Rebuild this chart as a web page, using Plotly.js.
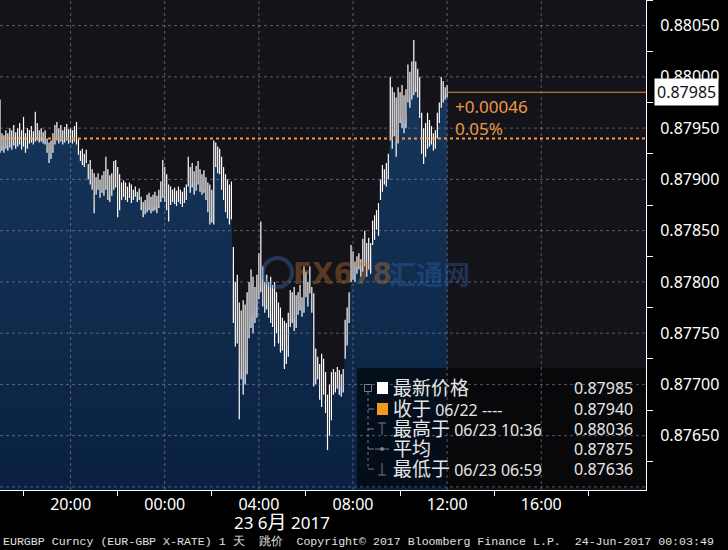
<!DOCTYPE html>
<html><head><meta charset="utf-8">
<script src="https://cdn.plot.ly/plotly-3.0.1.min.js"></script>
<style>html,body{margin:0;padding:0;background:#000;}#chart{width:728px;height:550px;}</style>
</head><body><div id="chart"></div>
<script>
// ---- data (EURGBP, 5-minute bars from 22 Jun 17:00) ----
const startTime = '2017-06-22T17:00:00Z';
const stepMinutes = 5;
const high = [
0.87978,0.87945,0.87943,0.87948,0.87945,0.87950,0.87948,0.87953,0.87946,0.87950,0.87955,0.87948,
0.87961,0.87945,0.87950,0.87948,0.87952,0.87947,0.87966,0.87955,0.87948,0.87950,0.87946,0.87948,
0.87940,0.87936,0.87938,0.87945,0.87953,0.87956,0.87950,0.87953,0.87948,0.87951,0.87954,0.87949,
0.87950,0.87948,0.87952,0.87956,0.87940,0.87928,0.87930,0.87925,0.87929,0.87915,0.87919,0.87910,
0.87906,0.87902,0.87906,0.87900,0.87904,0.87908,0.87922,0.87910,0.87904,0.87906,0.87918,0.87919,
0.87912,0.87905,0.87897,0.87899,0.87897,0.87893,0.87897,0.87895,0.87890,0.87893,0.87888,0.87891,
0.87883,0.87878,0.87880,0.87885,0.87887,0.87883,0.87885,0.87888,0.87884,0.87890,0.87898,0.87919,
0.87912,0.87905,0.87895,0.87893,0.87890,0.87892,0.87889,0.87893,0.87890,0.87888,0.87892,0.87895,
0.87922,0.87912,0.87916,0.87908,0.87913,0.87918,0.87910,0.87905,0.87909,0.87902,0.87897,0.87895,
0.87890,0.87938,0.87936,0.87932,0.87930,0.87922,0.87912,0.87905,0.87900,0.87895,0.87898,0.87834,
0.87800,0.87807,0.87780,0.87772,0.87782,0.87778,0.87790,0.87800,0.87812,0.87805,0.87795,0.87807,
0.87828,0.87859,0.87815,0.87800,0.87807,0.87800,0.87805,0.87797,0.87800,0.87790,0.87780,0.87775,
0.87765,0.87762,0.87760,0.87770,0.87792,0.87790,0.87795,0.87787,0.87790,0.87797,0.87785,0.87815,
0.87810,0.87800,0.87815,0.87795,0.87789,0.87735,0.87727,0.87720,0.87730,0.87725,0.87712,0.87690,
0.87700,0.87712,0.87715,0.87712,0.87717,0.87714,0.87710,0.87715,0.87763,0.87775,0.87790,0.87836,
0.87830,0.87820,0.87825,0.87828,0.87822,0.87842,0.87850,0.87838,0.87843,0.87838,0.87860,0.87865,
0.87870,0.87877,0.87900,0.87914,0.87910,0.87916,0.87925,0.88000,0.87990,0.87985,0.87980,0.87990,
0.87985,0.87992,0.87982,0.87988,0.88012,0.88005,0.88015,0.88036,0.88015,0.88008,0.88000,0.87965,
0.87950,0.87955,0.87965,0.87958,0.87952,0.87945,0.87948,0.87965,0.87975,0.88000,0.87996,0.87990,
0.87992];
const low = [
0.87926,0.87928,0.87926,0.87930,0.87928,0.87931,0.87929,0.87933,0.87930,0.87932,0.87934,0.87929,
0.87932,0.87926,0.87930,0.87935,0.87936,0.87934,0.87937,0.87938,0.87936,0.87937,0.87935,0.87934,
0.87926,0.87916,0.87920,0.87926,0.87934,0.87938,0.87935,0.87937,0.87934,0.87936,0.87938,0.87935,
0.87936,0.87935,0.87937,0.87934,0.87924,0.87918,0.87914,0.87912,0.87916,0.87900,0.87895,0.87890,
0.87867,0.87885,0.87890,0.87882,0.87887,0.87884,0.87890,0.87880,0.87878,0.87884,0.87890,0.87892,
0.87863,0.87870,0.87880,0.87883,0.87880,0.87878,0.87882,0.87877,0.87880,0.87883,0.87878,0.87880,
0.87870,0.87863,0.87866,0.87868,0.87870,0.87867,0.87869,0.87870,0.87867,0.87872,0.87878,0.87882,
0.87878,0.87870,0.87859,0.87875,0.87878,0.87876,0.87874,0.87878,0.87876,0.87873,0.87877,0.87880,
0.87893,0.87887,0.87892,0.87885,0.87889,0.87895,0.87888,0.87885,0.87887,0.87880,0.87868,0.87856,
0.87858,0.87856,0.87912,0.87906,0.87905,0.87890,0.87880,0.87868,0.87862,0.87856,0.87861,0.87760,
0.87737,0.87740,0.87666,0.87705,0.87690,0.87700,0.87710,0.87745,0.87755,0.87750,0.87760,0.87765,
0.87783,0.87790,0.87776,0.87770,0.87773,0.87765,0.87760,0.87756,0.87737,0.87750,0.87740,0.87731,
0.87733,0.87715,0.87720,0.87727,0.87756,0.87760,0.87752,0.87755,0.87768,0.87772,0.87766,0.87770,
0.87785,0.87776,0.87789,0.87770,0.87698,0.87700,0.87705,0.87685,0.87678,0.87690,0.87672,0.87636,
0.87650,0.87665,0.87690,0.87692,0.87696,0.87690,0.87688,0.87692,0.87725,0.87738,0.87760,0.87800,
0.87802,0.87800,0.87808,0.87812,0.87805,0.87810,0.87815,0.87805,0.87812,0.87808,0.87836,0.87841,
0.87851,0.87845,0.87880,0.87888,0.87895,0.87893,0.87900,0.87938,0.87930,0.87942,0.87922,0.87935,
0.87955,0.87950,0.87945,0.87950,0.87975,0.87970,0.87978,0.87982,0.87985,0.87980,0.87960,0.87925,
0.87915,0.87922,0.87930,0.87932,0.87934,0.87928,0.87930,0.87940,0.87955,0.87970,0.87975,0.87978,
0.87980];
const close = [
0.87929,0.87933,0.87931,0.87935,0.87932,0.87936,0.87934,0.87937,0.87935,0.87937,0.87938,0.87934,
0.87937,0.87932,0.87936,0.87938,0.87940,0.87938,0.87941,0.87942,0.87940,0.87941,0.87939,0.87938,
0.87929,0.87922,0.87925,0.87930,0.87938,0.87941,0.87939,0.87941,0.87938,0.87940,0.87941,0.87939,
0.87940,0.87938,0.87940,0.87937,0.87927,0.87921,0.87918,0.87916,0.87919,0.87904,0.87900,0.87895,
0.87872,0.87890,0.87893,0.87887,0.87891,0.87889,0.87895,0.87885,0.87883,0.87889,0.87894,0.87896,
0.87868,0.87875,0.87885,0.87887,0.87884,0.87882,0.87886,0.87882,0.87884,0.87887,0.87882,0.87884,
0.87874,0.87867,0.87870,0.87873,0.87874,0.87871,0.87873,0.87875,0.87872,0.87876,0.87882,0.87888,
0.87883,0.87875,0.87866,0.87879,0.87882,0.87880,0.87878,0.87882,0.87880,0.87877,0.87881,0.87884,
0.87897,0.87891,0.87896,0.87890,0.87894,0.87899,0.87892,0.87889,0.87891,0.87885,0.87874,0.87862,
0.87864,0.87915,0.87916,0.87912,0.87909,0.87895,0.87885,0.87873,0.87867,0.87861,0.87866,0.87780,
0.87755,0.87752,0.87700,0.87718,0.87705,0.87715,0.87725,0.87760,0.87770,0.87765,0.87772,0.87778,
0.87795,0.87800,0.87785,0.87778,0.87782,0.87773,0.87770,0.87765,0.87750,0.87760,0.87752,0.87745,
0.87742,0.87728,0.87732,0.87740,0.87765,0.87768,0.87762,0.87765,0.87775,0.87779,0.87773,0.87778,
0.87790,0.87782,0.87793,0.87775,0.87705,0.87706,0.87710,0.87692,0.87685,0.87696,0.87680,0.87645,
0.87658,0.87672,0.87697,0.87698,0.87702,0.87697,0.87694,0.87700,0.87735,0.87748,0.87768,0.87808,
0.87808,0.87806,0.87813,0.87817,0.87810,0.87815,0.87820,0.87812,0.87818,0.87815,0.87840,0.87845,
0.87855,0.87852,0.87884,0.87893,0.87900,0.87898,0.87905,0.87945,0.87940,0.87950,0.87930,0.87945,
0.87962,0.87958,0.87953,0.87958,0.87980,0.87976,0.87984,0.87990,0.87992,0.87986,0.87968,0.87933,
0.87920,0.87928,0.87935,0.87937,0.87938,0.87933,0.87935,0.87946,0.87962,0.87976,0.87980,0.87982,
0.87985];

const xTickVals = ['2017-06-22 20:00','2017-06-23 00:00','2017-06-23 04:00','2017-06-23 08:00','2017-06-23 12:00','2017-06-23 16:00'];
const xTickText = ['20:00','00:00','04:00','08:00','12:00','16:00'];
const xMinorVals = ['2017-06-22 18:00','2017-06-22 22:00','2017-06-23 02:00','2017-06-23 06:00','2017-06-23 10:00','2017-06-23 14:00','2017-06-23 18:00'];
const xRange = ['2017-06-22 17:00','2017-06-23 20:27'];
const dateLabel = '23 6月 2017';

const yTickVals = [0.8760,0.8765,0.8770,0.8775,0.8780,0.8785,0.8790,0.8795,0.8800,0.8805];
const yTickText = ['','0.87650','0.87700','0.87750','0.87800','0.87850','0.87900','0.87950','0.88000','0.88050'];
const yMinorVals = [0.87625,0.87675,0.87725,0.87775,0.87825,0.87875,0.87925,0.87975,0.88025,0.88075];
const yRange = [0.87597, 0.88075];

const lastPrice = 0.87985;
const prevClose = 0.87940;
const changeText = ['+0.00046','0.05%'];
const legendLabels = ['最新价格','收于 06/22 ----','最高于 06/23 10:36','平均','最低于 06/23 06:59'];
const legendValues = ['0.87985','0.87940','0.88036','0.87875','0.87636'];
const footerText = 'EURGBP Curncy (EUR-GBP X-RATE) 1 天  跳价  Copyright© 2017 Bloomberg Finance L.P.  24-Jun-2017 00:03:49';

// ---- build ----
const t0 = Date.parse(startTime);
const times = high.map((_, i) => new Date(t0 + i * stepMinutes * 60000).toISOString().slice(0, 16).replace('T', ' '));
const zx = [], zy = [];
times.forEach((t, i) => { zx.push(t, t, null); zy.push(low[i], high[i], null); });
const lastTime = times[times.length - 1];

const PW = 646, PH = 490;
const PX = x => x / PW;
const PY = y => (PH - y) / PH;
const bigCJK = (s, px) => s.replace(/([\u4e00-\u9fff]+)/g, '<span style="font-size:' + px + 'px">$1</span>');

const traces = [
  { x: times, y: close, type: 'scatter', mode: 'lines', line: { width: 0, color: 'rgba(0,0,0,0)' },
    fill: 'tozeroy', fillgradient: { type: 'vertical', start: 0.8760, stop: 0.8800,
      colorscale: [[0, '#0a2141'], [1, '#17375c']] }, hoverinfo: 'skip', showlegend: false },
  { x: zx, y: zy, type: 'scatter', mode: 'lines', connectgaps: false, line: { width: 1.2, color: '#ffffff' }, hoverinfo: 'skip', showlegend: false },
  { x: yTickVals.map(() => 1.0095), y: yTickVals, xaxis: 'x2', type: 'scatter', mode: 'markers',
    marker: { symbol: 'triangle-right', size: 9, color: '#ffffff' }, cliponaxis: false, hoverinfo: 'skip', showlegend: false },
  { x: [1.0085], y: [lastPrice], xaxis: 'x2', type: 'scatter', mode: 'markers',
    marker: { symbol: 'triangle-left', size: 16, color: '#ffffff' }, cliponaxis: false, hoverinfo: 'skip', showlegend: false }
];

const gridColor = 'rgba(150,150,175,0.55)';
const shapes = [];
shapes.push({ type: 'rect', xref: 'paper', yref: 'paper', x0: PX(357), x1: 1, y0: PY(488), y1: PY(368),
  fillcolor: 'rgba(0,0,0,0.6)', line: { width: 0 }, layer: 'above' });
yTickVals.forEach(v => shapes.push({ type: 'line', xref: 'paper', yref: 'y', x0: 0, x1: 1, y0: v, y1: v,
  line: { color: gridColor, width: 1, dash: '3px,3px' }, layer: 'above' }));
xTickVals.forEach(v => shapes.push({ type: 'line', xref: 'x', yref: 'paper', x0: v, x1: v, y0: 0, y1: 1,
  line: { color: gridColor, width: 1, dash: '3px,3px' }, layer: 'above' }));
shapes.push({ type: 'line', xref: 'paper', yref: 'y', x0: 0, x1: 1, y0: prevClose, y1: prevClose,
  line: { color: '#f19a45', width: 2, dash: 'dot' }, layer: 'above' });
shapes.push({ type: 'line', xref: 'x', yref: 'y', x0: lastTime, x1: '2017-06-24 12:00', y0: lastPrice, y1: lastPrice,
  line: { color: '#e8903a', width: 1 }, layer: 'above' });
shapes.push({ type: 'rect', xref: 'paper', yref: 'paper', x0: PX(377), x1: PX(388), y0: PY(394), y1: PY(382),
  fillcolor: '#ffffff', line: { width: 0 }, layer: 'above' });
shapes.push({ type: 'rect', xref: 'paper', yref: 'paper', x0: PX(377), x1: PX(388), y0: PY(415), y1: PY(403),
  fillcolor: '#f39a1e', line: { width: 0 }, layer: 'above' });
const treeCol = 'rgba(150,150,160,0.8)';
shapes.push({ type: 'rect', xref: 'paper', yref: 'paper', x0: PX(364.5), x1: PX(371.5), y0: PY(391.5), y1: PY(384.5),
  fillcolor: 'rgba(0,0,0,0)', line: { width: 1, color: treeCol }, layer: 'above' });
shapes.push({ type: 'line', xref: 'paper', yref: 'paper', x0: PX(368), x1: PX(368), y0: PY(392), y1: PY(469),
  line: { width: 1, color: treeCol, dash: 'dot' }, layer: 'above' });
[409, 429, 449, 469].forEach(y => shapes.push({ type: 'line', xref: 'paper', yref: 'paper', x0: PX(368), x1: PX(374), y0: PY(y), y1: PY(y),
  line: { width: 1, color: treeCol }, layer: 'above' }));
shapes.push({ type: 'line', xref: 'paper', yref: 'paper', x0: PX(382), x1: PX(382), y0: PY(423), y1: PY(435), line: { width: 1, color: treeCol }, layer: 'above' });
shapes.push({ type: 'line', xref: 'paper', yref: 'paper', x0: PX(378), x1: PX(386), y0: PY(423), y1: PY(423), line: { width: 1, color: treeCol }, layer: 'above' });
shapes.push({ type: 'line', xref: 'paper', yref: 'paper', x0: PX(382), x1: PX(382), y0: PY(463), y1: PY(475), line: { width: 1, color: treeCol }, layer: 'above' });
shapes.push({ type: 'line', xref: 'paper', yref: 'paper', x0: PX(378), x1: PX(386), y0: PY(475), y1: PY(475), line: { width: 1, color: treeCol }, layer: 'above' });
shapes.push({ type: 'line', xref: 'paper', yref: 'paper', x0: PX(375), x1: PX(389), y0: PY(449), y1: PY(449), line: { width: 1, color: treeCol }, layer: 'above' });
shapes.push({ type: 'circle', xref: 'paper', yref: 'paper', x0: PX(380), x1: PX(384), y0: PY(451), y1: PY(447), fillcolor: treeCol, line: { width: 0 }, layer: 'above' });
shapes.push({ type: 'circle', xref: 'paper', yref: 'paper', x0: PX(263), x1: PX(292), y0: PY(287), y1: PY(258),
  fillcolor: 'rgba(0,0,0,0)', line: { width: 4, color: 'rgba(60,110,180,0.4)' }, layer: 'above' });

const annotations = [];
const rowY = [388, 409, 429, 449, 469];
const legFont = { family: 'Noto Sans, Noto Sans CJK SC', size: 16, color: '#e6e6e6' };
legendLabels.forEach((s, i) => annotations.push({ text: bigCJK(s, 19), xref: 'paper', yref: 'paper', x: PX(391), y: PY(rowY[i]),
  xanchor: 'left', yanchor: 'middle', showarrow: false, font: legFont }));
legendValues.forEach((s, i) => annotations.push({ text: s, xref: 'paper', yref: 'paper', x: PX(635), y: PY(rowY[i]),
  xanchor: 'right', yanchor: 'middle', showarrow: false, font: legFont }));
annotations.push({ text: changeText.join('<br>'), xref: 'paper', yref: 'paper', x: PX(453), y: PY(93), xanchor: 'left', yanchor: 'top',
  align: 'left', showarrow: false, font: { family: 'Noto Sans', size: 17, color: '#ec9a45' } });
annotations.push({ text: lastPrice.toFixed(5), xref: 'paper', yref: 'y', x: PX(654), y: lastPrice, xanchor: 'left', yanchor: 'middle',
  showarrow: false, bgcolor: '#ffffff', borderpad: 2, font: { family: 'Noto Sans', size: 16, color: '#111111' } });
annotations.push({ text: bigCJK(dateLabel, 19), xref: 'paper', yref: 'paper', x: PX(282), y: PY(522), xanchor: 'center', yanchor: 'middle',
  showarrow: false, font: { family: 'Noto Sans, Noto Sans CJK SC', size: 17, color: '#ffffff' } });
annotations.push({ text: footerText, xref: 'paper', yref: 'paper', x: PX(1), y: PY(541), xanchor: 'left', yanchor: 'middle',
  showarrow: false, font: { family: 'Liberation Mono', size: 11.6, color: '#e0e0e0' } });
annotations.push({ text: '<b>FX678</b>', xref: 'paper', yref: 'paper', x: PX(342), y: PY(273), xanchor: 'center', yanchor: 'middle',
  showarrow: false, font: { family: 'Liberation Sans Narrow, DejaVu Sans Condensed', size: 31, color: 'rgba(200,120,45,0.38)' } });
annotations.push({ text: '<b>汇通网</b>', xref: 'paper', yref: 'paper', x: PX(429), y: PY(273), xanchor: 'center', yanchor: 'middle',
  showarrow: false, font: { family: 'Noto Sans CJK SC', size: 27, color: 'rgba(50,100,170,0.4)' } });

const layout = {
  width: 728, height: 550,
  margin: { l: 0, r: 82, t: 0, b: 60 },
  paper_bgcolor: '#000000', plot_bgcolor: '#141319',
  showlegend: false,
  xaxis: { type: 'date', range: xRange, tickmode: 'array', tickvals: xTickVals, ticktext: xTickText, ticks: '',
    showgrid: false, zeroline: false, showline: true, linecolor: '#ffffff', linewidth: 1, automargin: false,
    tickfont: { family: 'Noto Sans', size: 16, color: '#ffffff' },
    minor: { tickmode: 'array', tickvals: xMinorVals, ticks: 'outside', ticklen: 5, tickcolor: '#ffffff', showgrid: false } },
  xaxis2: { overlaying: 'x', range: [0, 1], visible: false, fixedrange: true },
  yaxis: { side: 'right', range: yRange, tickmode: 'array', tickvals: yTickVals, ticktext: yTickText,
    ticks: 'outside', ticklen: 10, tickcolor: 'rgba(0,0,0,0)', showgrid: false, zeroline: false,
    showline: true, linecolor: '#ffffff', linewidth: 1, automargin: false,
    tickfont: { family: 'Noto Sans', size: 16, color: '#ffffff' },
    minor: { tickmode: 'array', tickvals: yMinorVals, ticks: 'outside', ticklen: 6, tickcolor: '#ffffff', showgrid: false } },
  shapes, annotations
};
Plotly.newPlot('chart', traces, layout, { staticPlot: true, displayModeBar: false });
</script></body></html>
